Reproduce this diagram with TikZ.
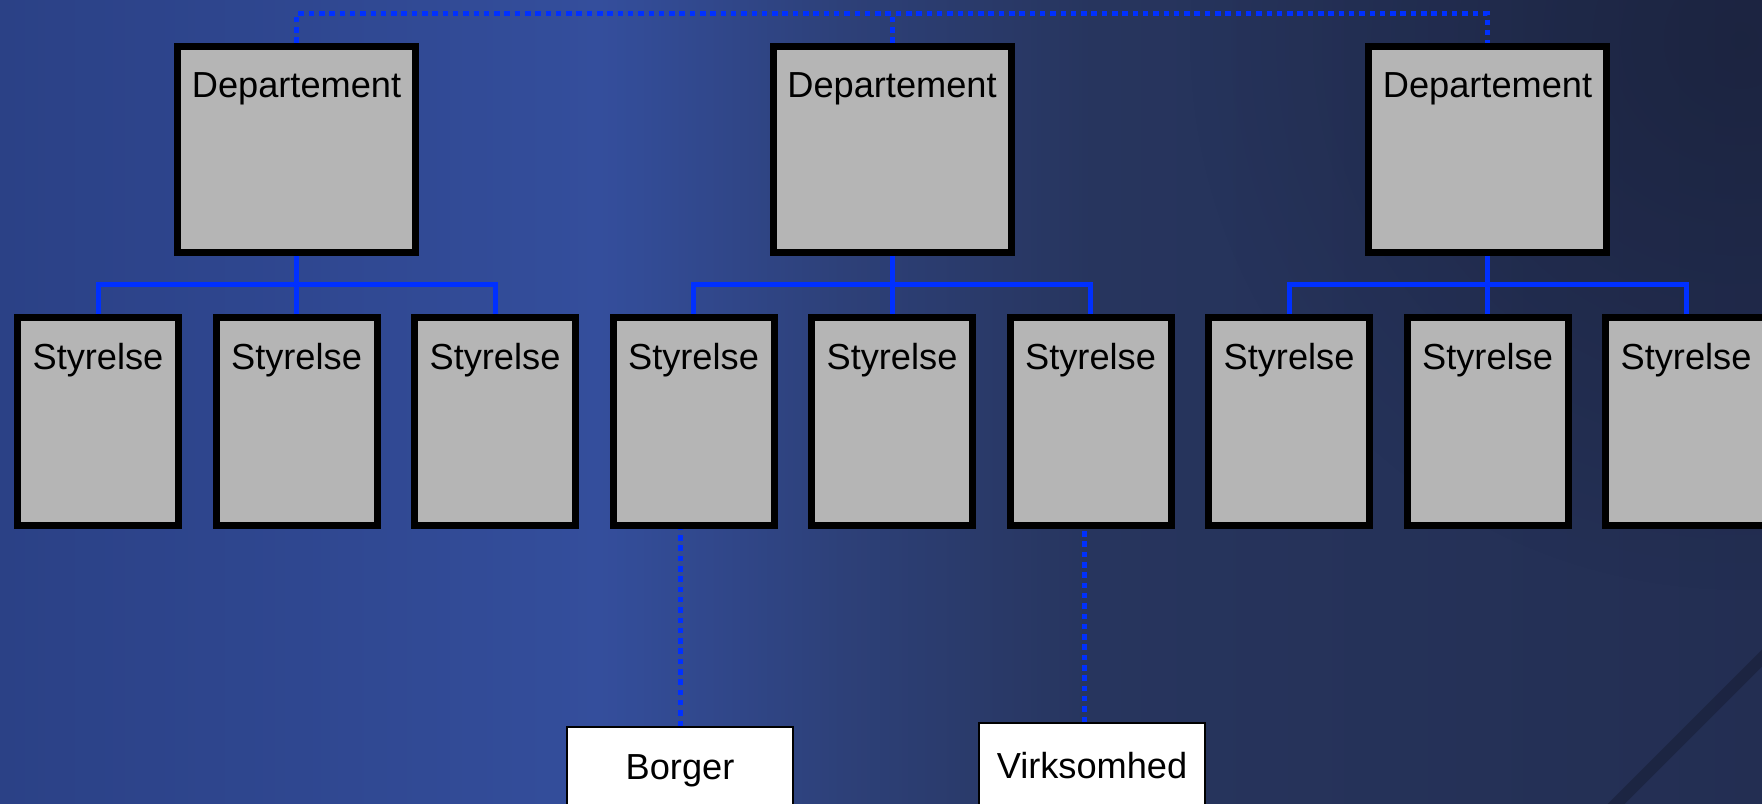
\documentclass[tikz,border=0pt]{standalone}
\usepackage{fontspec}
\setmainfont{Liberation Sans}
\usetikzlibrary{fadings}
\definecolor{bgA}{HTML}{2B4186}
\definecolor{bgB}{HTML}{2F4790}
\definecolor{bgC}{HTML}{344E9C}
\definecolor{bgD}{HTML}{2D4078}
\definecolor{bgE}{HTML}{27355E}
\definecolor{bgF}{HTML}{232E52}
\definecolor{bgDark}{HTML}{161C32}
\definecolor{boxgray}{HTML}{B5B5B5}
\definecolor{linkblue}{HTML}{0030FF}
\pgfdeclarehorizontalshading{slidebg}{100bp}{color(0bp)=(bgA); color(25bp)=(bgA); color(33.5bp)=(bgB); color(42bp)=(bgC); color(49bp)=(bgD); color(56bp)=(bgE); color(75bp)=(bgF); color(100bp)=(bgF)}
\tikzfading[name=softglow, inner color=transparent!0, outer color=transparent!100]

\begin{document}
\begin{tikzpicture}[
    every node/.style={font=\fontsize{10.3}{12}\selectfont},
    dept/.style={draw=black, line width=0.07cm, fill=boxgray, inner sep=0pt, minimum width=2.38cm, text height=0.51cm, text depth=1.55cm},
    styr/.style={draw=black, line width=0.07cm, fill=boxgray, inner sep=0pt, minimum width=1.61cm, text height=0.515cm, text depth=1.565cm},
    party/.style={draw=black, line width=0.02cm, fill=white, inner sep=0pt, minimum width=2.26cm, text height=0.52cm, text depth=0.8cm, anchor=north},
    bus/.style={draw=linkblue, line width=0.05cm},
    link/.style={draw=linkblue, line width=0.05cm, dash pattern=on 0.055cm off 0.048cm}
  ]
  \useasboundingbox (0,0) rectangle (17.62,-8.03);
  \clip (0,0) rectangle (17.62,-8.03);
  \shade[shading=slidebg] (0,0) rectangle (17.62,-8.03);
  \fill[bgDark, opacity=0.55, path fading=softglow] (17.4,-0.4) circle (5.5);
  \draw[bgDark, line width=0.12cm, opacity=0.5] (16.1,-8.1) -- (17.7,-6.5);

  % departementer
  \node[dept] (d1) at (2.965,-1.495) {Departement};
  \node[dept] (d2) at (8.92,-1.495) {Departement};
  \node[dept] (d3) at (14.875,-1.495) {Departement};

  % styrelser
  \node[styr] (s1) at (0.98,-4.215) {Styrelse};
  \node[styr] (s2) at (2.965,-4.215) {Styrelse};
  \node[styr] (s3) at (4.95,-4.215) {Styrelse};
  \node[styr] (s4) at (6.935,-4.215) {Styrelse};
  \node[styr] (s5) at (8.92,-4.215) {Styrelse};
  \node[styr] (s6) at (10.905,-4.215) {Styrelse};
  \node[styr] (s7) at (12.89,-4.215) {Styrelse};
  \node[styr] (s8) at (14.875,-4.215) {Styrelse};
  \node[styr] (s9) at (16.86,-4.215) {Styrelse};

  % borger og virksomhed
  \node[party] (borger) at (6.80,-7.26) {Borger};
  \node[party, text height=0.55cm] (virk) at (10.92,-7.22) {Virksomhed};

  % linjer
  \coordinate (top) at (8.92,-0.14);
  \draw[link] (d1.north) |- (top) -| (d3.north);
  \draw[link] (d2.north) -- (d2.north |- top);

  \coordinate (b1) at (2.965,-2.85);
  \coordinate (b2) at (8.92,-2.85);
  \coordinate (b3) at (14.875,-2.85);
  \draw[bus] (s1.north) |- (b1) -| (s3.north);
  \draw[bus] (d1.south) -- (s2.north);
  \draw[bus] (s4.north) |- (b2) -| (s6.north);
  \draw[bus] (d2.south) -- (s5.north);
  \draw[bus] (s7.north) |- (b3) -| (s9.north);
  \draw[bus] (d3.south) -- (s8.north);

  \draw[link] (borger.north) -- (borger.north |- s4.south);
  \draw[link] ([xshift=-0.08cm]virk.north) -- ([xshift=-0.08cm]virk.north |- s6.south);
\end{tikzpicture}
\end{document}
